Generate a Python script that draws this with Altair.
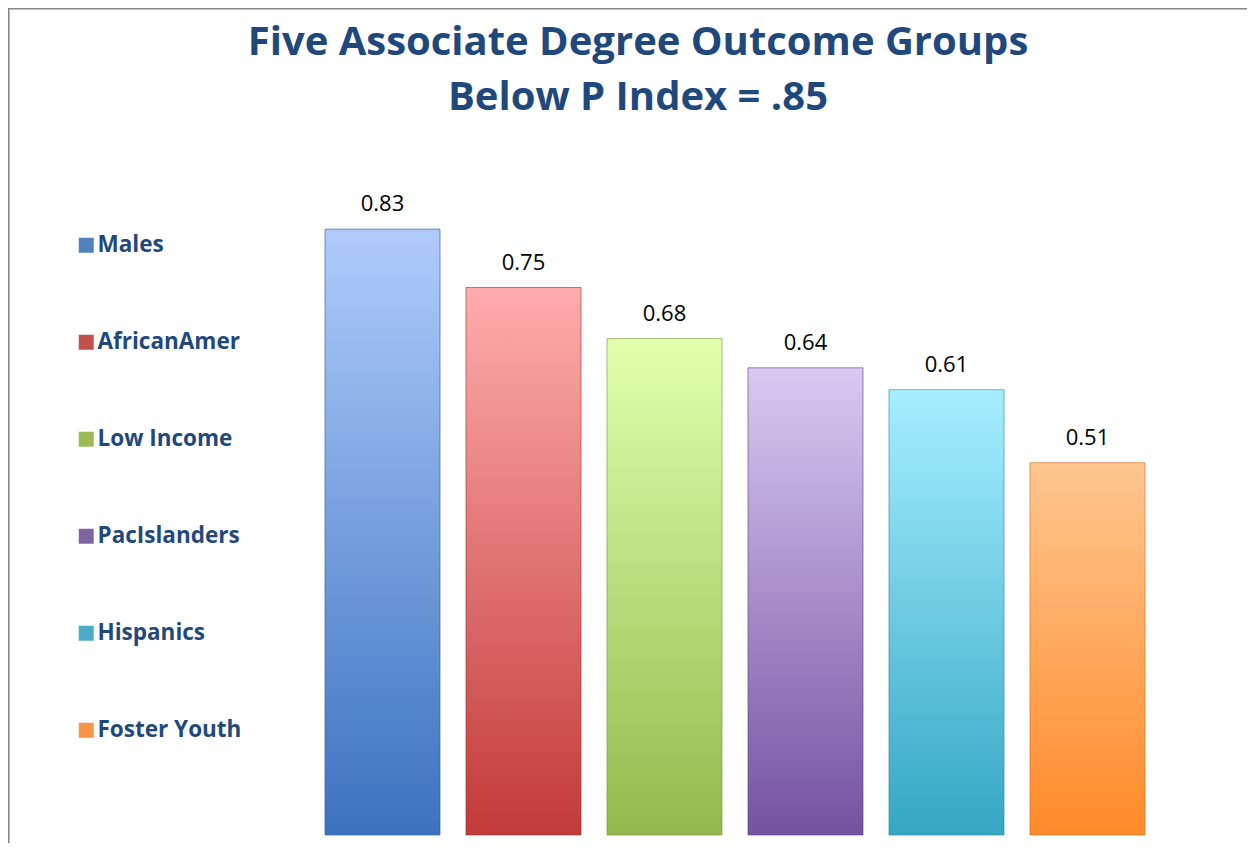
import altair as alt
import pandas as pd

groups = ["Males", "AfricanAmer", "Low Income", "PacIslanders", "Hispanics", "Foster Youth"]
values = [0.83, 0.75, 0.68, 0.64, 0.61, 0.51]
top_colors = ["#AFCBFB", "#FFACAC", "#E3FFAE", "#D9C9F2", "#A6EEFF", "#FFC690"]
bottom_colors = ["#3B72C0", "#C23A39", "#93B94C", "#7351A1", "#34A7C4", "#FF8A2A"]
edge_colors = ["#2F5C9C", "#9C2E2E", "#76953C", "#5C4182", "#2A869E", "#C96C20"]
legend_colors = ["#4F81BD", "#C0504D", "#9BBB59", "#8064A2", "#4BACC6", "#F79646"]
title_lines = ["Five Associate Degree Outcome Groups", "Below P Index = .85"]

df = pd.DataFrame({"group": groups, "value": values})

FONT = "Open Sans"
TITLE_COLOR = "#1F497D"
W, H = 1239, 835

x_enc = alt.X("group:N", sort=groups, axis=None,
              scale=alt.Scale(domain=groups, range=[304, 1150],
                              paddingInner=0.184, paddingOuter=0.092))
y_enc = alt.Y("value:Q", axis=None,
              scale=alt.Scale(domain=[0, 1], range=[827, 97], nice=False, zero=True))

base = alt.Chart(df)

layers = []
for g, tc, bc, ec in zip(groups, top_colors, bottom_colors, edge_colors):
    layers.append(
        base.transform_filter(alt.datum.group == g).mark_bar(
            color=alt.Gradient(
                gradient="linear",
                stops=[alt.GradientStop(color=tc, offset=0),
                       alt.GradientStop(color=bc, offset=1)],
                x1=0, x2=0, y1=0, y2=1,
            ),
            stroke=ec, strokeWidth=1, strokeOpacity=0.6,
        ).encode(x=x_enc, y=y_enc)
    )

labels = base.mark_text(dy=-18, baseline="alphabetic", fontSize=22, font=FONT,
                        color="#000000").encode(
    x=x_enc, y=y_enc, text=alt.Text("value:Q", format=".2f"))

legend_layer = base.mark_square(opacity=0).encode(
    x=x_enc, y=y_enc,
    color=alt.Color("group:N", sort=groups,
                    scale=alt.Scale(domain=groups, range=legend_colors),
                    legend=alt.Legend(
                        title=None, orient="none", legendX=67, legendY=226,
                        symbolType="square", symbolSize=225, symbolOpacity=1,
                        symbolStrokeWidth=0,
                        labelFont=FONT, labelFontSize=22.5, labelFontWeight="bold",
                        labelColor=TITLE_COLOR, labelOffset=0, labelLimit=400,
                        rowPadding=74,
                    )))

title1 = alt.Chart(pd.DataFrame({"t": [title_lines[0]]})).mark_text(
    font=FONT, fontSize=40, fontWeight="bold", color=TITLE_COLOR,
    align="center", baseline="alphabetic").encode(
    x=alt.value(630), y=alt.value(47), text="t:N")
title2 = alt.Chart(pd.DataFrame({"t": [title_lines[1]]})).mark_text(
    font=FONT, fontSize=40, fontWeight="bold", color=TITLE_COLOR,
    align="center", baseline="alphabetic").encode(
    x=alt.value(630), y=alt.value(102), text="t:N")

frame_df = pd.DataFrame({"k": [0]})
top_line = alt.Chart(frame_df).mark_rule(color="#888888", strokeWidth=1.6).encode(
    x=alt.value(0), x2=alt.value(W), y=alt.value(0.8))
left_line = alt.Chart(frame_df).mark_rule(color="#888888", strokeWidth=1.6).encode(
    x=alt.value(0.8), y=alt.value(0), y2=alt.value(H))

chart = alt.layer(top_line, left_line, *layers, labels, legend_layer, title1, title2).properties(
    width=W, height=H, padding=0, autosize=alt.AutoSizeParams(type="none"),
    background="white",
).configure_view(stroke=None)

chart.save("out.html", embed_options={"renderer": "svg", "actions": False})
